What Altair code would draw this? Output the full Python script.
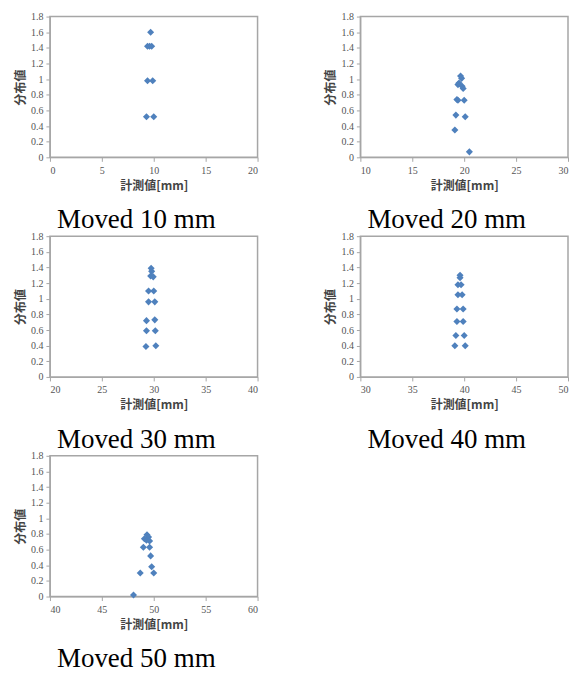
import altair as alt
import pandas as pd

titles = ["Moved 10 mm", "Moved 20 mm", "Moved 30 mm", "Moved 40 mm", "Moved 50 mm"]
x_domains = [[0, 20], [10, 30], [20, 40], [30, 50], [40, 60]]

x1 = [9.7, 9.4, 9.6, 9.8, 9.4, 9.9, 9.3, 10.0]
y1 = [1.6, 1.42, 1.42, 1.42, 0.98, 0.98, 0.52, 0.52]

x2 = [19.65, 19.75, 19.4, 19.5, 19.8, 19.9, 19.3, 19.4, 20.0, 19.2, 20.1, 19.1, 20.5]
y2 = [1.04, 1.01, 0.93, 0.95, 0.91, 0.88, 0.74, 0.73, 0.73, 0.54, 0.52, 0.35, 0.07]

x3 = [29.75, 29.8, 29.7, 29.95, 29.5, 30.0, 29.5, 30.1, 29.3, 30.1, 29.3, 30.15, 29.25, 30.2]
y3 = [1.39, 1.35, 1.29, 1.28, 1.1, 1.1, 0.96, 0.96, 0.72, 0.73, 0.59, 0.59, 0.39, 0.40]

x4 = [39.6, 39.6, 39.4, 39.7, 39.4, 39.8, 39.3, 39.9, 39.3, 39.9, 39.2, 40.0, 39.1, 40.1]
y4 = [1.30, 1.27, 1.18, 1.18, 1.05, 1.05, 0.87, 0.87, 0.71, 0.71, 0.53, 0.53, 0.40, 0.40]

x5 = [49.35, 49.5, 49.1, 49.3, 49.6, 49.0, 49.6, 49.7, 49.8, 48.7, 50.0, 48.05]
y5 = [0.79, 0.76, 0.74, 0.72, 0.71, 0.63, 0.63, 0.52, 0.38, 0.30, 0.30, 0.02]

y_ticks = [0, 0.2, 0.4, 0.6, 0.8, 1, 1.2, 1.4, 1.6, 1.8]

series = [(x1, y1), (x2, y2), (x3, y3), (x4, y4), (x5, y5)]


def panel(i):
    xs, ys = series[i]
    df = pd.DataFrame({"x": xs, "y": ys})
    lo, hi = x_domains[i]
    return alt.Chart(df, title=alt.TitleParams(
        titles[i], orient="bottom", anchor="middle", frame="bounds",
        font="Liberation Serif", fontSize=27, fontWeight="normal",
        color="black", offset=16)
    ).mark_point(shape="diamond", filled=True, size=50, color="#4F81BD", opacity=1).encode(
        x=alt.X("x:Q", scale=alt.Scale(domain=[lo, hi], nice=False, zero=False),
                axis=alt.Axis(title="計測値[mm]", values=list(range(lo, hi + 1, 5)), format="d")),
        y=alt.Y("y:Q", scale=alt.Scale(domain=[0, 1.8], nice=False),
                axis=alt.Axis(title="分布値", values=y_ticks, labelExpr="'' + datum.value")),
    ).properties(width=208, height=141)


chart = alt.vconcat(
    alt.hconcat(panel(0), panel(1), spacing=64),
    alt.hconcat(panel(2), panel(3), spacing=64),
    panel(4),
    spacing=-4,
).properties(
    padding={"left": 5, "top": 2, "right": 0, "bottom": 0}
).configure_view(
    stroke="#A6A6A6", strokeWidth=1.5
).configure_axis(
    grid=False,
    domainColor="#A6A6A6",
    tickColor="#A6A6A6",
    tickSize=4,
    labelFont="Liberation Serif",
    labelFontSize=10,
    labelColor="#555555",
    titleFont="Noto Sans CJK JP",
    titleFontSize=12,
    titleFontWeight="bold",
    titleColor="#444444",
    labelPadding=3,
).configure_axisY(
    titlePadding=3,
).configure_axisX(
    labelPadding=4,
    titlePadding=5,
)

chart.save("out.html", embed_options={"renderer": "svg", "actions": False})
